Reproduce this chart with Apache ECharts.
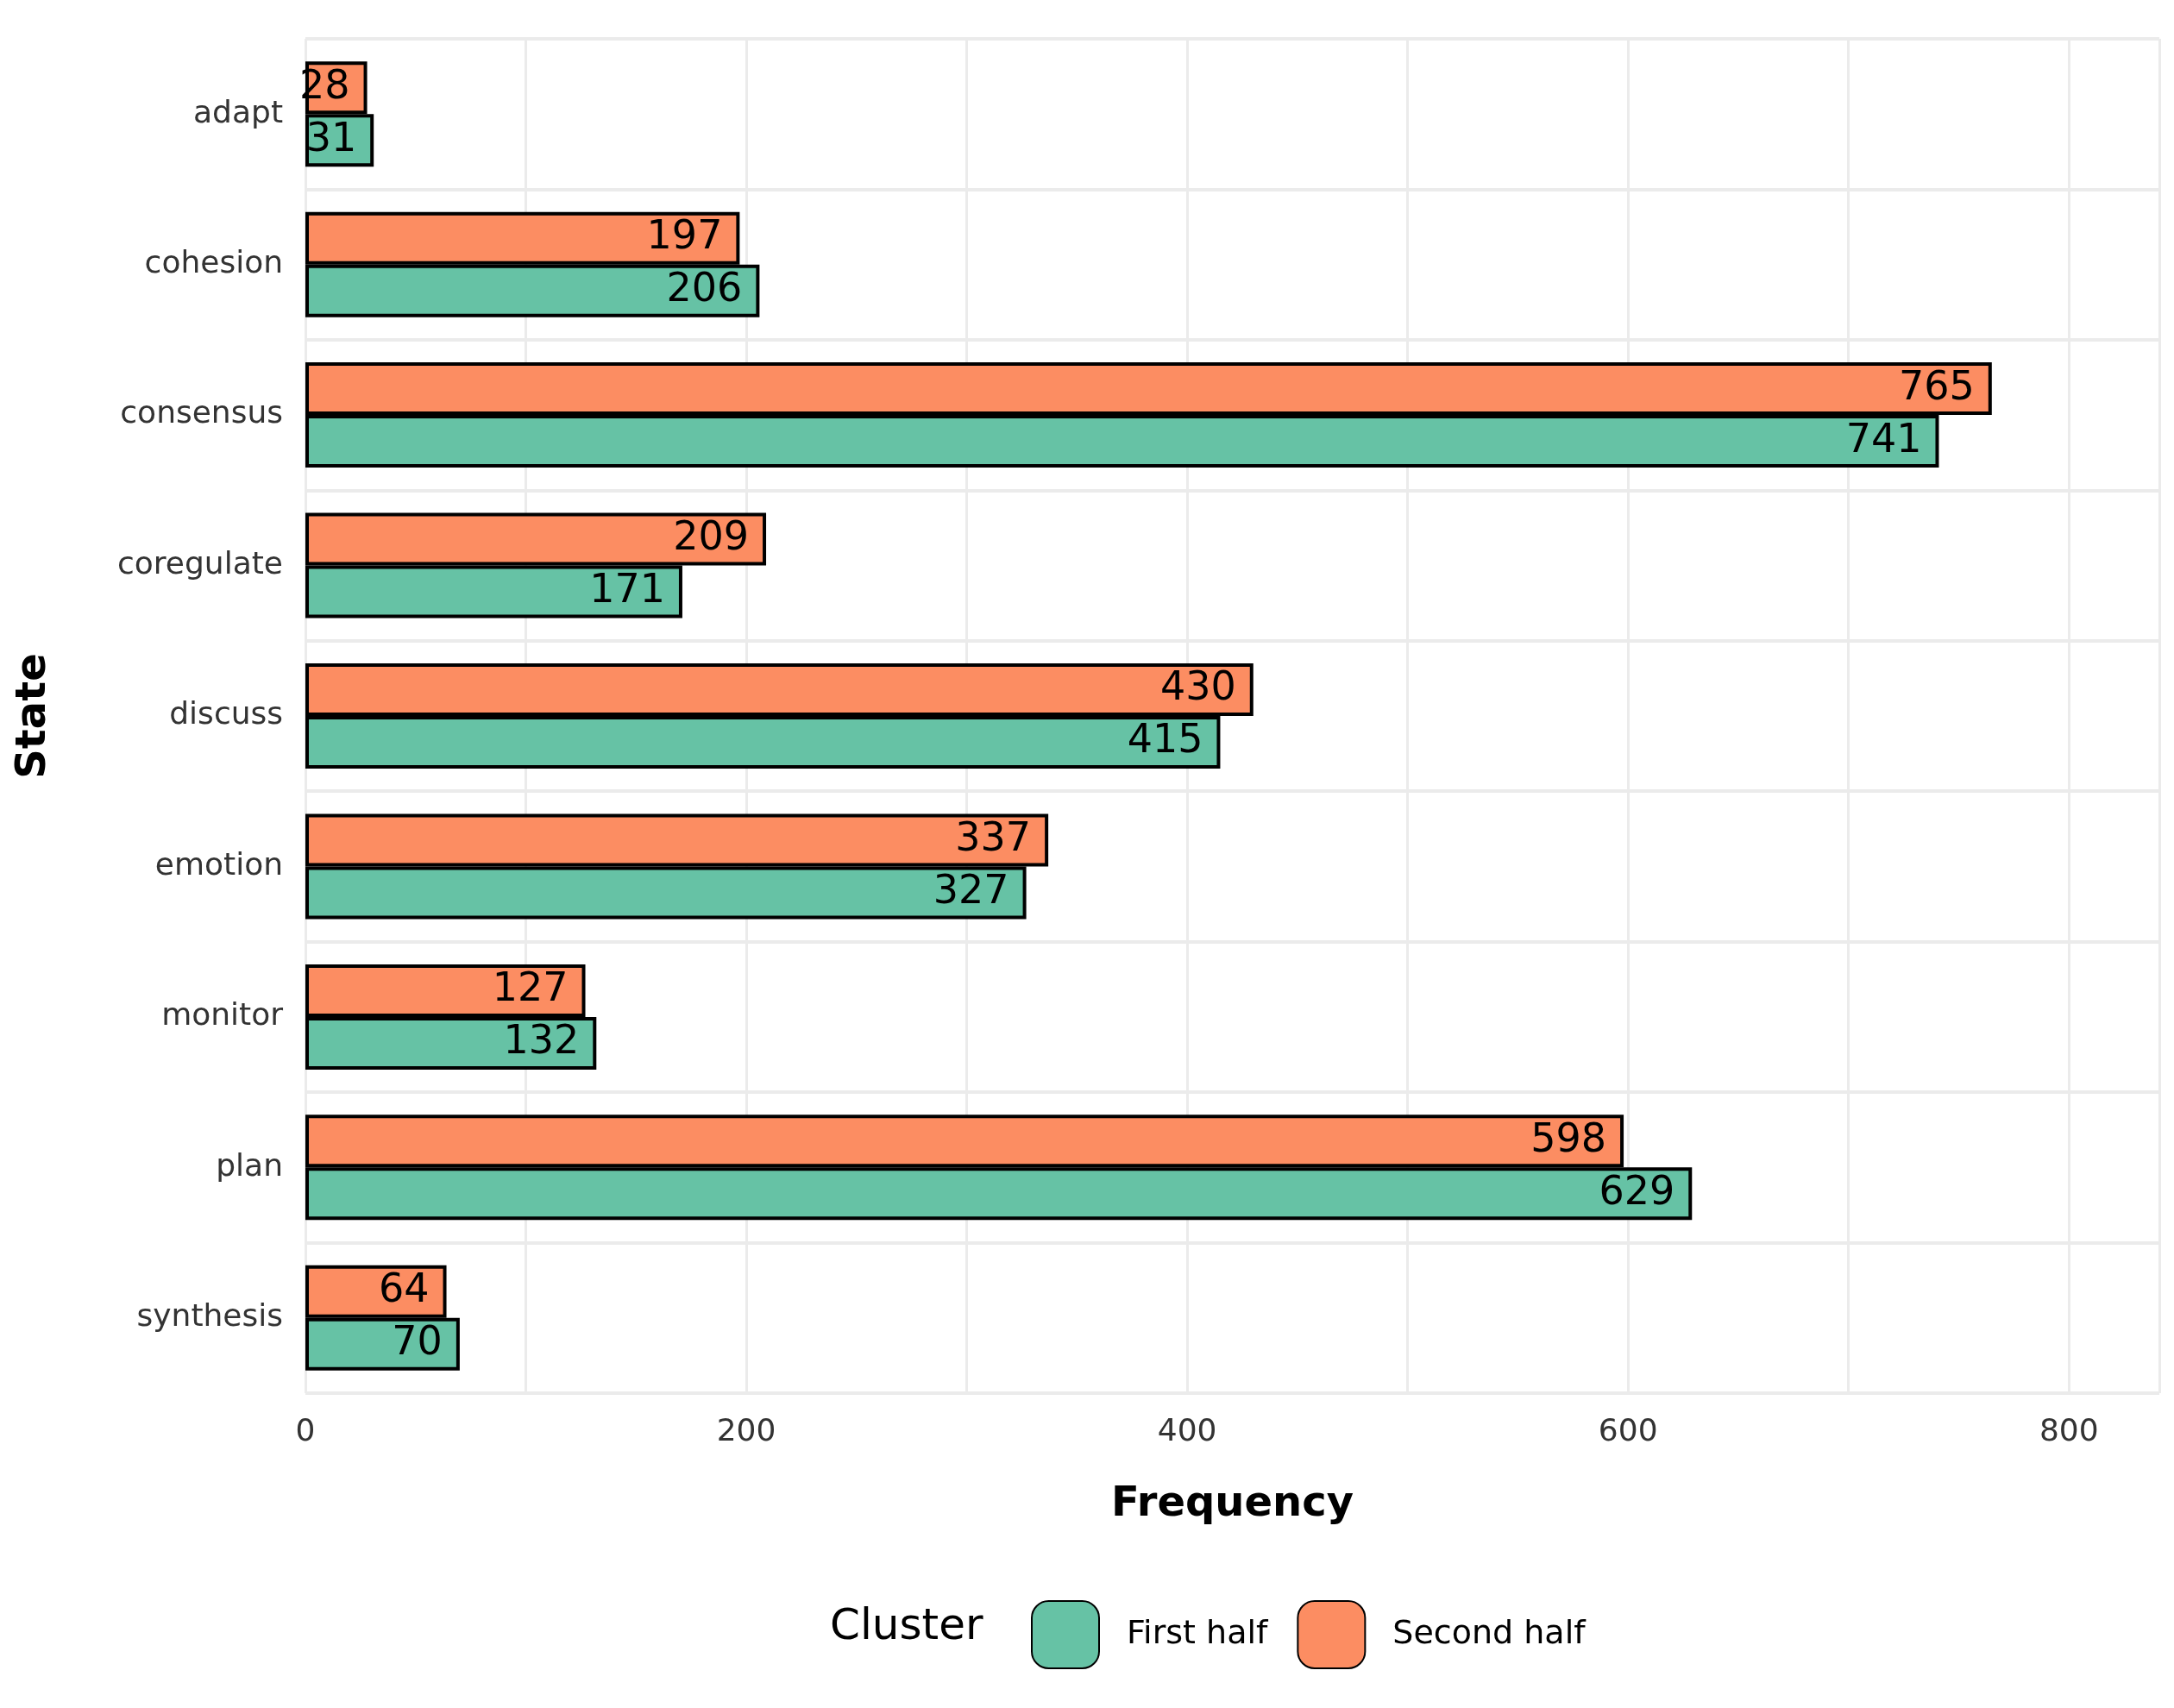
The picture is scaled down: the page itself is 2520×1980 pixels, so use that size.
<!DOCTYPE html>
<html>
<head>
<meta charset="utf-8">
<script src="https://cdn.jsdelivr.net/npm/echarts@6/dist/echarts.min.js"></script>
<style>
  html, body { margin: 0; padding: 0; background: #fff; }
  #chart { width: 2520px; height: 1980px; }
</style>
</head>
<body>
<div id="chart"></div>
<script>
const states = ['adapt', 'cohesion', 'consensus', 'coregulate', 'discuss', 'emotion', 'monitor', 'plan', 'synthesis'];
const firstHalf = [31, 206, 741, 171, 415, 327, 132, 629, 70];
const secondHalf = [28, 197, 765, 209, 430, 337, 127, 598, 64];

const font = 'DejaVu Sans';
const chart = echarts.init(document.getElementById('chart'));

const labelStyle = {
    show: true, position: 'insideRight', distance: 20,
    color: '#000', fontSize: 46, fontFamily: font
};

chart.setOption({
    backgroundColor: '#fff',
    animation: false,
    textStyle: { fontFamily: font },
    grid: { left: 354, right: 17, top: 45, bottom: 365 },
    xAxis: {
        type: 'value', min: 0, max: 841, interval: 100,
        axisLine: { show: false }, axisTick: { show: false },
        axisLabel: {
            color: '#333', fontSize: 36, margin: 28,
            formatter: v => (v % 200 === 0 ? v : '')
        },
        splitLine: { lineStyle: { color: '#ebebeb', width: 3 } },
        name: 'Frequency', nameLocation: 'middle', nameGap: 106,
        nameTextStyle: { fontSize: 48, fontWeight: 'bold', color: '#000' }
    },
    yAxis: [{
        type: 'category', data: states, inverse: true,
        axisLine: { show: false }, axisTick: { show: false },
        axisLabel: { color: '#333', fontSize: 36, margin: 26 },
        splitLine: { show: false },
        name: 'State', nameLocation: 'middle', nameGap: 290, nameRotate: 90,
        nameTextStyle: { fontSize: 48, fontWeight: 'bold', color: '#000' }
    }, {
        type: 'value', min: 0.5, max: 9.5, interval: 1, inverse: true,
        position: 'left', axisLine: { show: false }, axisTick: { show: false },
        axisLabel: { show: false },
        splitLine: { show: true, lineStyle: { color: '#ebebeb', width: 4 } }
    }],
    legend: {
        left: 1190, top: 1850, itemWidth: 78, itemHeight: 78, itemGap: 34,
        data: ['First half', 'Second half'],
        textStyle: { fontSize: 38, color: '#000', padding: [0, 0, 0, 27] }
    },
    graphic: [{
        type: 'text', left: 962, top: 1862,
        style: { text: 'Cluster', fontSize: 50, fill: '#000', fontFamily: font }
    }],
    series: [{
        name: 'Second half', type: 'bar', data: secondHalf,
        barWidth: 61, barGap: '0%',
        itemStyle: { color: '#FC8D62', borderColor: '#000', borderWidth: 4 },
        label: labelStyle
    }, {
        name: 'First half', type: 'bar', data: firstHalf,
        barWidth: 61, barGap: '0%',
        itemStyle: { color: '#66C2A5', borderColor: '#000', borderWidth: 4 },
        label: labelStyle
    }]
});
</script>
</body>
</html>
